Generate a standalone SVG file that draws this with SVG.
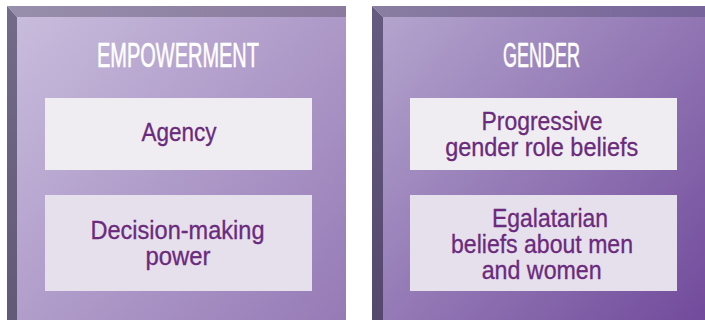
<svg xmlns="http://www.w3.org/2000/svg" width="705" height="320" viewBox="0 0 705 320">
<defs>
<linearGradient id="gL" gradientUnits="userSpaceOnUse" x1="17" y1="17" x2="346" y2="320"><stop offset="0" stop-color="#c8bcdc"/><stop offset="1" stop-color="#967ab6"/></linearGradient>
<linearGradient id="gR" gradientUnits="userSpaceOnUse" x1="383" y1="17" x2="705" y2="320"><stop offset="0" stop-color="#b3a4cd"/><stop offset="1" stop-color="#724b9c"/></linearGradient>
<linearGradient id="tL" x1="0" y1="0" x2="1" y2="0"><stop offset="0" stop-color="#978fab"/><stop offset="1" stop-color="#8a7a9f"/></linearGradient>
<linearGradient id="tR" x1="0" y1="0" x2="1" y2="0"><stop offset="0" stop-color="#8a7ea2"/><stop offset="1" stop-color="#76649a"/></linearGradient>
<linearGradient id="sL" x1="0" y1="0" x2="0" y2="1"><stop offset="0" stop-color="#736b8a"/><stop offset="1" stop-color="#625878"/></linearGradient>
<linearGradient id="sR" x1="0" y1="0" x2="0" y2="1"><stop offset="0" stop-color="#655a80"/><stop offset="1" stop-color="#54486f"/></linearGradient>
</defs>
<style>
.title{font-family:"Liberation Sans",Arial,sans-serif;font-size:35px;fill:#ffffff;text-anchor:middle;stroke:#ffffff;stroke-width:0.6}
.lbl{font-family:"Liberation Sans",Arial,sans-serif;font-size:25px;fill:#6b2a7c;text-anchor:middle;stroke:#6b2a7c;stroke-width:0.3}
.b1{fill:#efedf1}
.b2{fill:#e6dfec}
</style>
<g id="panel-empowerment">
<rect x="17" y="17" width="329" height="303" fill="url(#gL)"/>
<polygon points="7,6 346,6 346,17 17,17" fill="url(#tL)"/>
<polygon points="7,6 17,17 17,320 7,320" fill="url(#sL)"/>
<text class="title" x="178" y="67" textLength="162" lengthAdjust="spacingAndGlyphs">EMPOWERMENT</text>
</g>
<g id="node-agency">
<rect class="b1" x="45" y="98" width="267" height="72"/>
<text class="lbl" x="179" y="141" textLength="75" lengthAdjust="spacingAndGlyphs">Agency</text>
</g>
<g id="node-decision">
<rect class="b2" x="45" y="195" width="267" height="96"/>
<text class="lbl" x="177.5" y="239" textLength="174" lengthAdjust="spacingAndGlyphs">Decision-making</text>
<text class="lbl" x="178" y="265" textLength="65" lengthAdjust="spacingAndGlyphs">power</text>
</g>
<g id="panel-gender">
<rect x="383" y="17" width="322" height="303" fill="url(#gR)"/>
<polygon points="372,6 705,6 705,17 383,17" fill="url(#tR)"/>
<polygon points="372,6 383,17 383,320 372,320" fill="url(#sR)"/>
<text class="title" x="541.5" y="67" textLength="77" lengthAdjust="spacingAndGlyphs">GENDER</text>
</g>
<g id="node-progressive">
<rect class="b1" x="410" y="98" width="267" height="72"/>
<text class="lbl" x="542" y="130" textLength="121" lengthAdjust="spacingAndGlyphs">Progressive</text>
<text class="lbl" x="541.7" y="156" textLength="193" lengthAdjust="spacingAndGlyphs">gender role beliefs</text>
</g>
<g id="node-egalitarian">
<rect class="b2" x="410" y="195" width="267" height="96"/>
<text class="lbl" x="550" y="227" textLength="116" lengthAdjust="spacingAndGlyphs">Egalatarian</text>
<text class="lbl" x="542" y="253" textLength="182" lengthAdjust="spacingAndGlyphs">beliefs about men</text>
<text class="lbl" x="541.7" y="279" textLength="120" lengthAdjust="spacingAndGlyphs">and women</text>
</g>
<g id="connectors"/>
</svg>
